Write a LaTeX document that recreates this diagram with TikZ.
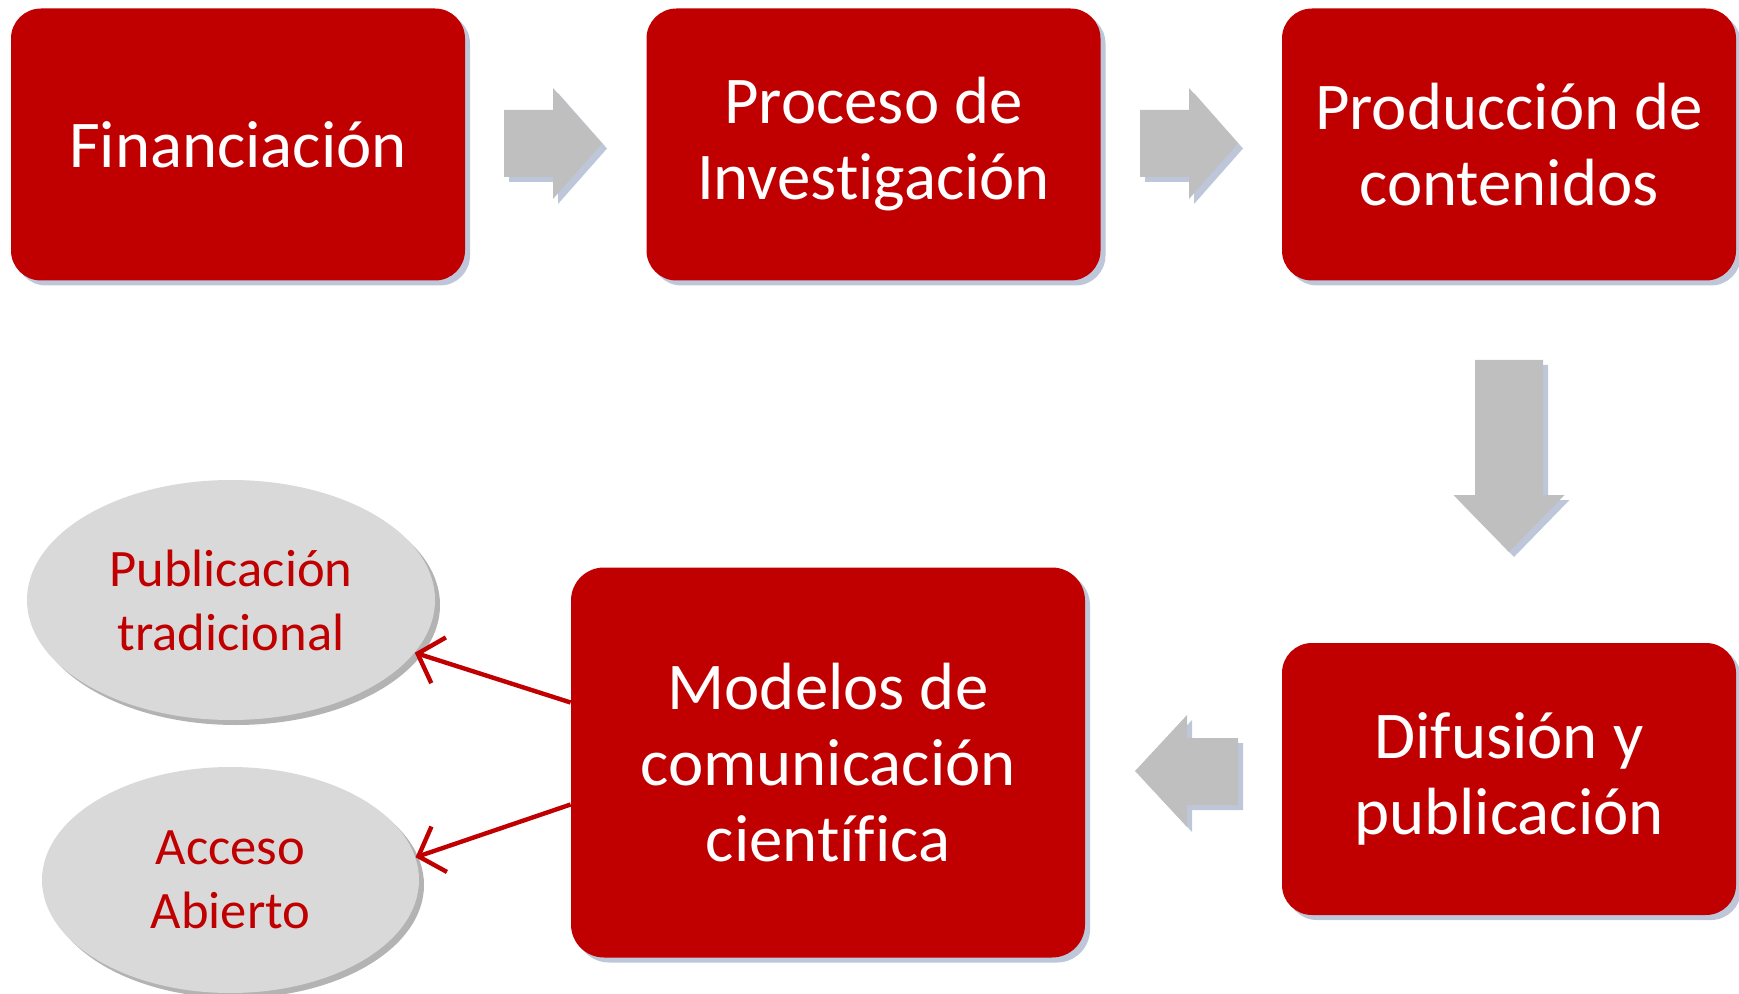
\documentclass[tikz,border=0pt]{standalone}
\usepackage{fontspec}
\setmainfont{Carlito}[Ligatures=NoCommon]
\usetikzlibrary{positioning,calc,shadows,arrows.meta,shapes.geometric}
\definecolor{boxred}{HTML}{C00000}
\definecolor{arrowgray}{HTML}{BFBFBF}
\definecolor{ellgray}{HTML}{D9D9D9}
\definecolor{shadowblue}{HTML}{AEB8CF}
\tikzset{box/.style={fill=boxred,text=white,rounded corners=15pt,align=center,inner sep=0pt,font=\fontsize{33.4}{38}\selectfont,drop shadow={fill=shadowblue,opacity=.8,shadow xshift=2.5pt,shadow yshift=-2.5pt}},
  ell/.style={ellipse,fill=ellgray,text=boxred,align=center,inner sep=0pt,font=\fontsize{26.3}{32}\selectfont,drop shadow={fill=gray,opacity=.6,shadow xshift=2.5pt,shadow yshift=-2.5pt}},
  blk/.style={fill=arrowgray,drop shadow={fill=shadowblue,opacity=.8,shadow xshift=2.5pt,shadow yshift=-2.5pt}},
  link/.style={draw=boxred,line width=2.2pt,-{Straight Barb[length=11pt,width=24pt]}}}

\begin{document}
\begin{tikzpicture}[x=0.5pt,y=-0.5pt]
  \useasboundingbox (0,0) rectangle (1739,994);

  % top row
  \node (fin) [box,minimum width=227pt,minimum height=136pt] at (238,144.5) {Financiación};
  \node (inv) [box,minimum width=227pt,minimum height=136pt] at (873.5,144.5) {Proceso de\\Investigación};
  \node (prod) [box,minimum width=227pt,minimum height=136pt] at (1509,144.5) {Producción de\\contenidos};

  % bottom row
  \node (dif) [box,minimum width=227pt,minimum height=136pt] at (1509,779) {Difusión y\\publicación};
  \node (mod) [box,minimum width=257pt,minimum height=195pt,rounded corners=16.5pt] at (828,762.5) {Modelos de\\comunicación\\científica};

  % models
  \node (pub) [ell,minimum width=204pt,minimum height=120pt] at (231,600) {Publicación\\tradicional};
  \node (acc) [ell,minimum width=188.5pt,minimum height=113pt] at (230.5,880) {Acceso\\Abierto};

  % block arrows
  \foreach \x in {0,636}
    \fill[blk] (504+\x,110) -- (553+\x,110) -- (553+\x,88) -- (602+\x,143.5) -- (553+\x,199) -- (553+\x,177) -- (504+\x,177) -- cycle;
  \fill[blk] (1475,360) -- (1543,360) -- (1543,495) -- (1564.5,495) -- (1509,552) -- (1453.5,495) -- (1475,495) -- cycle;
  \fill[blk] (1238,738) -- (1187,738) -- (1187,715) -- (1135,771) -- (1187,827) -- (1187,805) -- (1238,805) -- cycle;

  % links
  \draw[link] ([yshift=30pt]mod.west) -- (pub.-16);
  \draw[link] ([yshift=-21pt]mod.west) -- (acc.7);
\end{tikzpicture}
\end{document}
